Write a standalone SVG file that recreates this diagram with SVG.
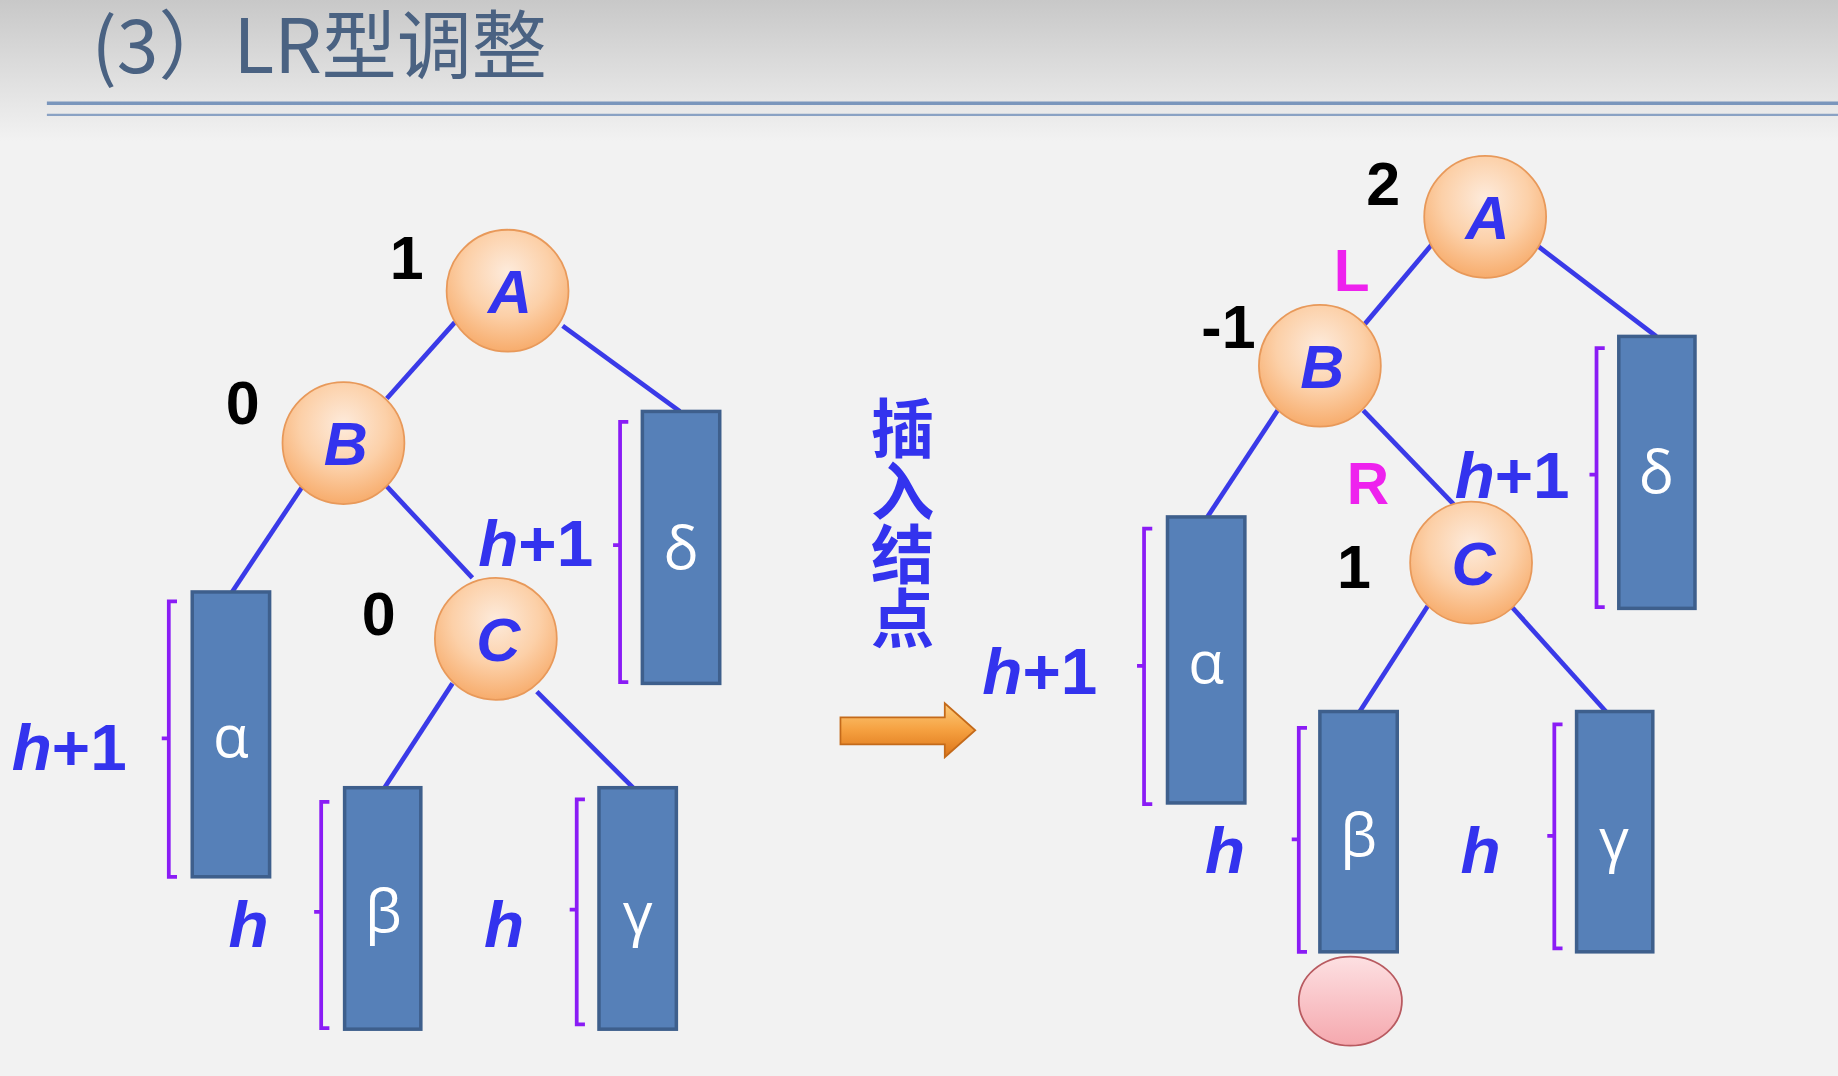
<svg xmlns="http://www.w3.org/2000/svg" width="1838" height="1076" viewBox="0 0 1838 1076">
<defs>
<linearGradient id="hdr" x1="0" y1="0" x2="0" y2="1">
<stop offset="0" stop-color="#c8c8c8"/><stop offset="1" stop-color="#f2f2f2"/>
</linearGradient>
<radialGradient id="nodeG" cx="0.5" cy="0.35" r="0.65">
<stop offset="0" stop-color="#fdebdc"/><stop offset="0.55" stop-color="#fcd0a8"/><stop offset="1" stop-color="#f7ac6c"/>
</radialGradient>
<linearGradient id="pinkG" x1="0" y1="0" x2="0" y2="1">
<stop offset="0" stop-color="#fde0e2"/><stop offset="1" stop-color="#f5a8ae"/>
</linearGradient>
<linearGradient id="arrG" x1="0" y1="0" x2="0" y2="1">
<stop offset="0" stop-color="#fccb7a"/><stop offset="0.5" stop-color="#f5a040"/><stop offset="1" stop-color="#dc7418"/>
</linearGradient>
<style>
.node{fill:url(#nodeG);stroke:#e8995a;stroke-width:1.5}
.nl{font-family:"Liberation Sans",Arial,sans-serif;font-weight:bold;font-style:italic;font-size:52px;fill:#3333ee;text-anchor:middle}
.sub{fill:#5680b8;stroke:#3e5f8c;stroke-width:3}
.gr{font-family:"Open Sans","DejaVu Sans",sans-serif;font-size:50px;fill:#ffffff;text-anchor:middle}
.edge{stroke:#3a3ae8;stroke-width:4;fill:none}
.br{stroke:#8a1cf5;stroke-width:3.2;fill:none}
.num{font-family:"Liberation Sans",Arial,sans-serif;font-weight:bold;font-size:52px;fill:#000;text-anchor:middle}
.mag{font-family:"Liberation Sans",Arial,sans-serif;font-weight:bold;font-size:50px;fill:#ee22ee;text-anchor:middle}
.ht{font-family:"Liberation Sans",Arial,sans-serif;font-weight:bold;font-size:56px;fill:#3333ee}
.hi{font-style:italic}
</style>
</defs>
<rect width="1838" height="1076" fill="#f2f2f2"/>
<rect width="1838" height="141" fill="url(#hdr)"/>
<g transform="scale(1.17219)">
<g id="title">
<text x="78" y="62" font-family="'Noto Sans CJK SC','Noto Sans',sans-serif" font-size="64" fill="#4a6282">(3）LR型调整</text>
<line x1="40" y1="88" x2="1568" y2="88" stroke="#7a96bc" stroke-width="3"/>
<line x1="40" y1="98" x2="1568" y2="98" stroke="#8aa2c4" stroke-width="2"/>
</g>
<g id="connectors">
<line class="edge" x1="388" y1="275" x2="330" y2="340"/>
<line class="edge" x1="480" y1="278" x2="580" y2="351"/>
<line class="edge" x1="258" y1="415" x2="198" y2="505"/>
<line class="edge" x1="330" y1="415" x2="403" y2="493"/>
<line class="edge" x1="386" y1="583" x2="328" y2="672"/>
<line class="edge" x1="458" y1="590" x2="540" y2="672"/>
<line class="edge" x1="1222" y1="208" x2="1163" y2="278"/>
<line class="edge" x1="1312" y1="210" x2="1413" y2="287"/>
<line class="edge" x1="1090" y1="350" x2="1030" y2="441"/>
<line class="edge" x1="1163" y1="350" x2="1240" y2="430"/>
<line class="edge" x1="1218" y1="517" x2="1160" y2="607"/>
<line class="edge" x1="1290" y1="518" x2="1370" y2="607"/>
</g>
<!-- left tree -->
<g id="L-A"><circle class="node" cx="433" cy="248" r="52"/><text class="nl" x="435" y="267">A</text><text class="num" x="347" y="238">1</text></g>
<g id="L-B"><circle class="node" cx="293" cy="378" r="52"/><text class="nl" x="295" y="397">B</text><text class="num" x="207" y="362">0</text></g>
<g id="L-C"><circle class="node" cx="423" cy="545" r="52"/><text class="nl" x="425" y="564">C</text><text class="num" x="323" y="542">0</text></g>
<g id="L-alpha"><rect class="sub" x="164" y="505" width="66" height="243"/><text class="gr" x="197" y="646">α</text>
<path class="br" d="M151,513 H144 V748 H151 M144,630 H138"/>
<text class="ht" x="10" y="657"><tspan class="hi">h</tspan>+1</text></g>
<g id="L-beta"><rect class="sub" x="294" y="672" width="65" height="206"/><text class="gr" x="327" y="795">β</text>
<path class="br" d="M281,684 H274 V877 H281 M274,778 H268"/>
<text class="ht hi" x="195" y="808">h</text></g>
<g id="L-gamma"><rect class="sub" x="511" y="672" width="66" height="206"/><text class="gr" x="544" y="797">γ</text>
<path class="br" d="M499,682 H492 V874 H499 M492,776 H486"/>
<text class="ht hi" x="413" y="808">h</text></g>
<g id="L-delta"><rect class="sub" x="548" y="351" width="66" height="232"/><text class="gr" x="581" y="485">δ</text>
<path class="br" d="M536,360 H529 V582 H536 M529,465 H523"/>
<text class="ht" x="408" y="483"><tspan class="hi">h</tspan>+1</text></g>
<!-- middle -->
<g id="insert-label">
<text x="770" y="338" writing-mode="vertical-rl" font-family="'Noto Sans CJK SC',sans-serif" font-weight="bold" font-size="54" fill="#3333ee">插入结点</text>
<path d="M717,612 H806 V600 L832,623 L806,646 V635 H717 Z" fill="url(#arrG)" stroke="#c46a1a" stroke-width="1.5"/>
</g>
<!-- right tree -->
<g id="R-A"><circle class="node" cx="1267" cy="185" r="52"/><text class="nl" x="1269" y="204">A</text><text class="num" x="1180" y="175">2</text></g>
<g id="R-B"><circle class="node" cx="1126" cy="312" r="52"/><text class="nl" x="1128" y="331">B</text><text class="num" x="1048" y="297">-1</text><text class="mag" x="1153" y="248">L</text></g>
<g id="R-C"><circle class="node" cx="1255" cy="480" r="52"/><text class="nl" x="1257" y="499">C</text><text class="num" x="1155" y="502">1</text><text class="mag" x="1167" y="430">R</text></g>
<g id="R-delta"><rect class="sub" x="1381" y="287" width="65" height="232"/><text class="gr" x="1413" y="421">δ</text>
<path class="br" d="M1369,297 H1362 V518 H1369 M1362,405 H1356"/>
<text class="ht" x="1241" y="425"><tspan class="hi">h</tspan>+1</text></g>
<g id="R-alpha"><rect class="sub" x="996" y="441" width="66" height="244"/><text class="gr" x="1029" y="583">α</text>
<path class="br" d="M983,451 H976 V686 H983 M976,568 H970"/>
<text class="ht" x="838" y="592"><tspan class="hi">h</tspan>+1</text></g>
<g id="R-beta"><rect class="sub" x="1126" y="607" width="66" height="205"/><text class="gr" x="1159" y="730">β</text>
<path class="br" d="M1115,621 H1108 V812 H1115 M1108,716 H1102"/>
<text class="ht hi" x="1028" y="745">h</text></g>
<g id="R-gamma"><rect class="sub" x="1345" y="607" width="65" height="205"/><text class="gr" x="1377" y="734">γ</text>
<path class="br" d="M1333,618 H1326 V809 H1333 M1326,713 H1320"/>
<text class="ht hi" x="1246" y="745">h</text></g>
<g id="new-node"><ellipse cx="1152" cy="854" rx="44" ry="38" fill="url(#pinkG)" stroke="#b85a60" stroke-width="1.5"/></g>
</g>
</svg>
